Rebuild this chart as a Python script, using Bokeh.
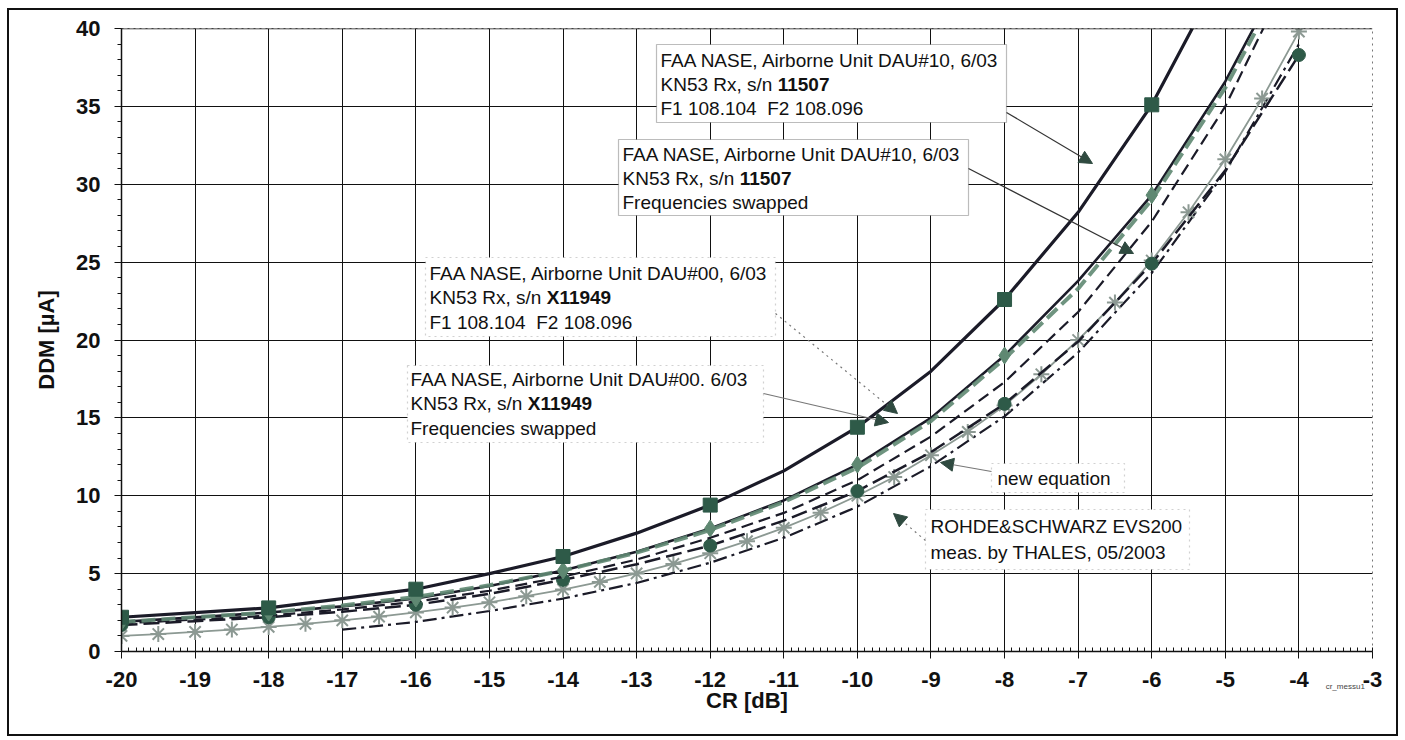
from bokeh.plotting import figure
from bokeh.layouts import column
from bokeh.models import (SingleIntervalTicker, FixedTicker, BoxAnnotation,
                          Label, Arrow, NormalHead, Range1d, LinearAxis,
                          PrintfTickFormatter, Span)
from bokeh.embed import file_html
from bokeh.resources import INLINE

# ---------------- data ----------------
# measured CR points (dB), 2 dB steps
cr_meas = [-20, -18, -16, -14, -12, -10, -8, -6, -4]
ddm_dau10_f1f2 = [2.2, 2.8, 4.0, 6.1, 9.4, 14.4, 22.6, 35.1, 54.5]
ddm_dau10_swapped = [1.9, 2.5, 3.4, 5.2, 7.9, 12.0, 19.0, 29.3, 45.5]
ddm_dau00_f1f2 = [1.7, 2.2, 3.0, 4.6, 6.8, 10.3, 15.9, 24.9, 38.3]
ddm_dau00_swapped = [1.8, 2.3, 3.2, 4.8, 7.3, 11.0, 17.3, 27.6, 44.7]
ddm_dau00_swapped_b = [1.9, 2.5, 3.5, 5.2, 7.8, 11.8, 18.8, 29.0, 45.0]

# smoothed curve values between the measured points (odd dB)
cr_mid = [-19, -17, -15, -13, -11, -9, -7, -5]
ddm_dau10_f1f2_mid = [2.5, 3.4, 5.0, 7.6, 11.6, 18.0, 28.2, 44.0]
ddm_dau10_swapped_mid = [2.2, 2.9, 4.2, 6.4, 9.7, 15.0, 23.8, 36.6]
ddm_dau00_f1f2_mid = [1.95, 2.55, 3.7, 5.6, 8.4, 12.8, 19.9, 30.9]
ddm_dau00_swapped_mid = [2.05, 2.7, 3.9, 5.9, 8.9, 13.8, 21.8, 35.0]
ddm_dau00_swapped_b_mid = [2.2, 2.95, 4.25, 6.35, 9.6, 14.8, 23.3, 36.2]

# new equation, 0.5 dB steps
cr_eq = [-20, -19.5, -19, -18.5, -18, -17.5, -17, -16.5, -16, -15.5, -15,
         -14.5, -14, -13.5, -13, -12.5, -12, -11.5, -11, -10.5, -10, -9.5,
         -9, -8.5, -8, -7.5, -7, -6.5, -6, -5.5, -5, -4.5, -4]
ddm_eq = [1.0, 1.12, 1.26, 1.41, 1.58, 1.78, 2.0, 2.24, 2.51, 2.82, 3.16,
          3.55, 3.98, 4.47, 5.01, 5.62, 6.31, 7.08, 7.94, 8.91, 10.0, 11.2,
          12.6, 14.1, 15.8, 17.8, 20.0, 22.4, 25.1, 28.2, 31.6, 35.5, 39.8]

# Rohde & Schwarz EVS200 (THALES), 1 dB steps
cr_rs = [-17, -16, -15, -14, -13, -12, -11, -10, -9, -8, -7, -6, -5, -4]
ddm_rs = [1.4, 1.9, 2.6, 3.4, 4.4, 5.7, 7.3, 9.3, 11.9, 15.1, 19.2, 24.3,
          30.8, 39.0]

x_from, x_to = -20, -3
y_from, y_to = 0, 40
sheet_tag = "cr_messu1"
sheet_tag_at = -3.37


def curve(xs_a, ys_a, xs_b, ys_b):
    pts = sorted(zip(list(xs_a) + list(xs_b), list(ys_a) + list(ys_b)))
    return [q[0] for q in pts], [q[1] for q in pts]


# ---------------- layout helpers ----------------
# page geometry: sheet border box and plot frame edges (pixels)
BORDER_L, BORDER_T, BORDER_W = 7, 8, 2
OX, OY = BORDER_L + BORDER_W, BORDER_T + BORDER_W   # figure origin on page
FIG_W, FIG_H = 1387, 724
FL, FR, FT, FB = 121, 1372, 28, 651                 # frame edges on page


def fx(px):
    return x_from + (px - FL) * (x_to - x_from) / (FR - FL)


def fy(py):
    return y_from + (FB - py) * (y_to - y_from) / (FB - FT)


FONT = "Liberation Sans"
DARK = "#1b1b28"
GREEN_DARK = "#2e5a48"
GREEN_MID = "#5f8872"
GRAY_STAR = "#8c9993"
NB = "\u00a0"

p = figure(width=FIG_W, height=FIG_H, output_backend="svg",
           toolbar_location=None,
           x_range=Range1d(x_from, x_to), y_range=Range1d(y_from, y_to),
           min_border_left=FL - OX, min_border_right=FIG_W - (FR - OX),
           min_border_top=FT - OY, min_border_bottom=FIG_H - (FB - OY))
p.background_fill_color = "white"
p.border_fill_color = "white"
p.outline_line_color = "#777777"
p.outline_line_dash = "dotted"
p.outline_line_width = 1

# axes
p.xaxis.ticker = SingleIntervalTicker(interval=1, num_minor_ticks=10)
p.yaxis.ticker = SingleIntervalTicker(interval=5, num_minor_ticks=5)
p.xaxis.formatter = PrintfTickFormatter(format="%d")
p.yaxis.formatter = PrintfTickFormatter(format="%d")
for ax in (p.xaxis, p.yaxis):
    ax.axis_line_color = "#111111"
    ax.axis_line_width = 1.5
    ax.major_tick_line_color = "#111111"
    ax.minor_tick_line_color = "#111111"
    ax.major_tick_out = 7
    ax.major_tick_in = 0
    ax.major_label_text_font = FONT
    ax.major_label_text_font_style = "bold"
    ax.major_label_text_font_size = "22px"
    ax.major_label_text_color = "#111111"
    ax.axis_label_text_font = FONT
    ax.axis_label_text_font_style = "bold"
    ax.axis_label_text_font_size = "22px"
    ax.axis_label_text_color = "#111111"
p.xaxis.minor_tick_in = 4
p.xaxis.minor_tick_out = 0
p.yaxis.minor_tick_in = 0
p.yaxis.minor_tick_out = 4
p.xaxis.major_label_standoff = 13
p.yaxis.major_label_standoff = 14
p.yaxis.axis_label = "DDM [\u00b5A]"
p.yaxis.axis_label_standoff = 14

# second bottom axis: carries the sheet tag and the CR axis title
tag_axis = LinearAxis(ticker=FixedTicker(ticks=[sheet_tag_at], minor_ticks=[]),
                      major_label_overrides={sheet_tag_at: sheet_tag},
                      axis_line_color=None, major_tick_line_color=None,
                      minor_tick_line_color=None,
                      major_label_text_font=FONT,
                      major_label_text_font_size="8px",
                      major_label_text_color="#444444",
                      major_label_standoff=-14,
                      axis_label="CR [dB]", axis_label_text_font=FONT,
                      axis_label_text_font_style="bold",
                      axis_label_text_font_size="22px",
                      axis_label_text_color="#111111",
                      axis_label_standoff=-6)
p.add_layout(tag_axis, "below")

p.xgrid.grid_line_color = "#111111"
p.ygrid.grid_line_color = "#111111"
p.xgrid.grid_line_width = 1
p.ygrid.grid_line_width = 1
p.add_layout(Span(location=y_to, dimension="width", line_color="#111111",
                  line_width=1.5))

# ---------------- series ----------------
# R&S EVS200 (dash-dot)
p.line(cr_rs, ddm_rs, line_color=DARK, line_width=2.2, line_dash="14 5 3 5")
# new equation
p.line(cr_eq, ddm_eq, line_color=GRAY_STAR, line_width=1.8)
p.scatter(cr_eq, ddm_eq, marker="asterisk", size=16, line_color=GRAY_STAR,
          line_width=2)
# DAU#00, F1/F2
cx, cy = curve(cr_meas, ddm_dau00_f1f2, cr_mid, ddm_dau00_f1f2_mid)
p.line(cx, cy, line_color=DARK, line_width=2.5, line_dash="16 6")
p.scatter(cr_meas, ddm_dau00_f1f2, marker="circle", size=13,
          fill_color=GREEN_DARK, line_color=GREEN_DARK)
# DAU#00, swapped
cx, cy = curve(cr_meas, ddm_dau00_swapped, cr_mid, ddm_dau00_swapped_mid)
p.line(cx, cy, line_color=DARK, line_width=2.2, line_dash="12 6")
# DAU#10, swapped
cx, cy = curve(cr_meas, ddm_dau10_swapped, cr_mid, ddm_dau10_swapped_mid)
p.line(cx, cy, line_color=DARK, line_width=2.6)
cx, cy = curve(cr_meas, ddm_dau00_swapped_b, cr_mid, ddm_dau00_swapped_b_mid)
p.line(cx, cy, line_color=GREEN_MID, line_width=4, line_dash="14 6",
       line_alpha=0.9)
p.scatter(cr_meas, ddm_dau10_swapped, marker="diamond", size=17,
          fill_color=GREEN_MID, line_color=GREEN_MID)
# DAU#10, F1/F2
cx, cy = curve(cr_meas, ddm_dau10_f1f2, cr_mid, ddm_dau10_f1f2_mid)
p.line(cx, cy, line_color=DARK, line_width=3.2)
p.scatter(cr_meas, ddm_dau10_f1f2, marker="square", size=14,
          fill_color=GREEN_DARK, line_color=GREEN_DARK)

# ---------------- callouts ----------------
TXT = dict(text_font=FONT, text_font_size="19px", text_color="#111111",
           text_baseline="middle", text_align="left")
KN_WIDTH = 6.169 * 19  # width of "KN53 Rx, s/n " at 19px

boxes = [
    (656, 44, 1006, 122, "solid"),
    (618, 139, 968, 215, "solid"),
    (425, 257, 775, 336, "dotted"),
    (407, 365, 763, 442, "dotted"),
    (991, 463, 1124, 492, "dotted"),
    (925, 509, 1189, 569, "dotted"),
]
for l, t, r, b, dash in boxes:
    p.add_layout(BoxAnnotation(left=fx(l), right=fx(r), top=fy(t),
                               bottom=fy(b), fill_color="white",
                               fill_alpha=1.0,
                               line_color="#222222" if dash == "solid" else "#666666",
                               line_width=1.2, line_dash=dash))

callouts = [
    (660, [60, 84, 108], ["FAA NASE, Airborne Unit DAU#10, 6/03",
                          ("KN53 Rx, s/n ", "11507"),
                          "F1 108.104" + NB + NB + "F2 108.096"]),
    (622, [154, 178, 202], ["FAA NASE, Airborne Unit DAU#10, 6/03",
                            ("KN53 Rx, s/n ", "11507"),
                            "Frequencies swapped"]),
    (429, [273, 297, 322], ["FAA NASE, Airborne Unit DAU#00, 6/03",
                            ("KN53 Rx, s/n ", "X11949"),
                            "F1 108.104" + NB + NB + "F2 108.096"]),
    (410, [379, 403, 428], ["FAA NASE, Airborne Unit DAU#00. 6/03",
                            ("KN53 Rx, s/n ", "X11949"),
                            "Frequencies swapped"]),
    (997, [478], ["new equation"]),
    (930, [526, 552], ["ROHDE&SCHWARZ EVS200", "meas. by THALES, 05/2003"]),
]
for x0, ys, lines in callouts:
    for yy, line in zip(ys, lines):
        if isinstance(line, tuple):
            p.add_layout(Label(x=fx(x0), y=fy(yy), text=line[0], **TXT))
            p.add_layout(Label(x=fx(x0 + KN_WIDTH), y=fy(yy), text=line[1],
                               text_font_style="bold", **TXT))
        else:
            p.add_layout(Label(x=fx(x0), y=fy(yy), text=line, **TXT))

arrows = [
    (1006, 112, 1092, 163, "solid", "#333333"),
    (968, 168, 1133, 253, "solid", "#333333"),
    (775, 313, 897, 413, "dotted", "#777777"),
    (763, 393, 888, 422, "solid", "#777777"),
    (991, 471, 940, 462, "solid", "#777777"),
    (925, 540, 893, 513, "dotted", "#777777"),
]
for x0, y0, x1, y1, dash, col in arrows:
    p.add_layout(Arrow(x_start=fx(x0), y_start=fy(y0), x_end=fx(x1),
                       y_end=fy(y1), line_color=col, line_width=1.2,
                       line_dash=dash,
                       end=NormalHead(size=13, fill_color="#2f4a40",
                                      line_color="#2f4a40")))

# sheet with its border
sheet = column(p, margin=(BORDER_T, 0, 0, BORDER_L),
               styles={"border": f"{BORDER_W}px solid #111111"})

open("out.html", "w").write(file_html(sheet, INLINE))
